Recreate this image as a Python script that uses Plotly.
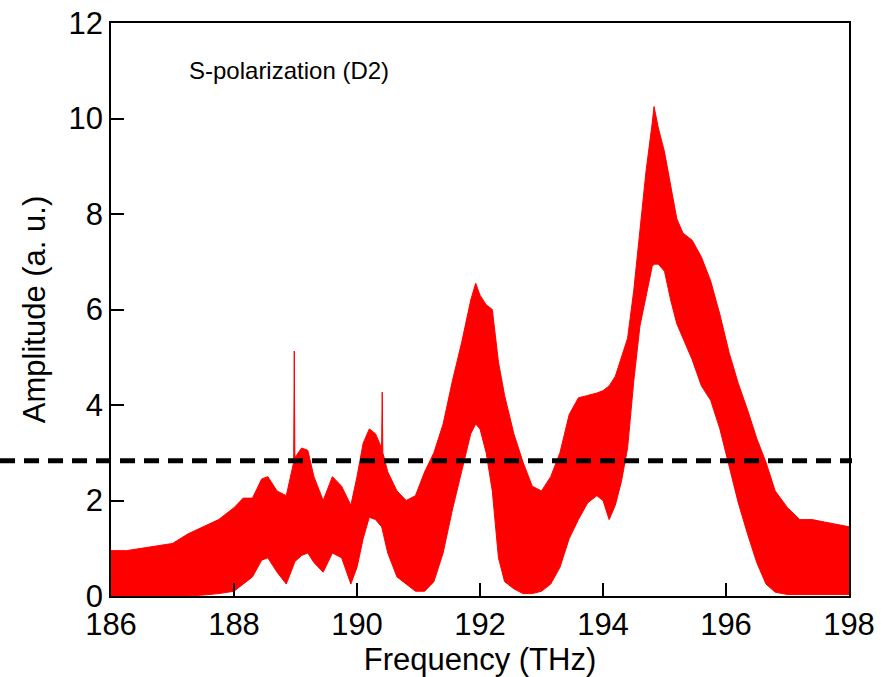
import plotly.graph_objects as go

freq = [186.0, 186.25, 186.5, 186.75, 187.0, 187.25, 187.5, 187.75, 188.0, 188.15,
        188.3, 188.45, 188.55, 188.7, 188.85, 188.97, 188.98, 188.99, 189.1, 189.2,
        189.3, 189.45, 189.6, 189.75, 189.9, 190.0, 190.1, 190.2, 190.3, 190.4,
        190.41, 190.42, 190.5, 190.65, 190.8, 190.95, 191.1, 191.25, 191.4, 191.55,
        191.7, 191.85, 191.93, 192.0, 192.1, 192.2, 192.3, 192.4, 192.55, 192.7,
        192.85, 193.0, 193.15, 193.3, 193.45, 193.6, 193.75, 193.9, 194.0, 194.1,
        194.2, 194.3, 194.4, 194.5, 194.6, 194.7, 194.8, 194.83, 194.9, 195.0,
        195.1, 195.2, 195.3, 195.45, 195.6, 195.75, 195.9, 196.05, 196.2, 196.35,
        196.5, 196.65, 196.8, 197.0, 197.2, 197.4, 197.6, 197.8, 198.0]
upper = [0.95, 0.95, 1.0, 1.05, 1.1, 1.3, 1.45, 1.6, 1.85, 2.05,
         2.05, 2.45, 2.5, 2.2, 2.1, 2.8, 5.13, 2.9, 3.1, 3.05,
         2.5, 2.0, 2.5, 2.3, 1.9, 2.5, 3.2, 3.5, 3.4, 3.1,
         4.27, 3.0, 2.6, 2.2, 2.0, 2.1, 2.6, 3.0, 3.6, 4.5,
         5.3, 6.2, 6.55, 6.3, 6.1, 6.0, 4.9, 4.2, 3.4, 2.8,
         2.3, 2.2, 2.5, 3.0, 3.8, 4.15, 4.2, 4.25, 4.3, 4.4,
         4.6, 5.0, 5.4, 6.4, 7.6, 8.9, 9.9, 10.25, 9.8, 9.3,
         8.6, 7.9, 7.6, 7.45, 7.1, 6.6, 5.9, 5.1, 4.45, 3.9,
         3.3, 2.8, 2.2, 1.85, 1.6, 1.6, 1.55, 1.5, 1.45]
lower = [0.0, 0.0, 0.0, 0.0, 0.0, 0.0, 0.02, 0.05, 0.1, 0.25,
         0.4, 0.75, 0.8, 0.5, 0.25, 0.65, 0.7, 0.72, 0.85, 0.9,
         0.7, 0.5, 0.9, 0.8, 0.25, 0.6, 1.2, 1.65, 1.6, 1.45,
         1.4, 1.35, 0.9, 0.4, 0.25, 0.1, 0.1, 0.3, 0.9, 1.8,
         2.6, 3.4, 3.6, 3.5, 3.0, 2.2, 0.8, 0.3, 0.15, 0.05,
         0.05, 0.1, 0.25, 0.6, 1.2, 1.6, 1.95, 2.1, 2.0, 1.6,
         1.9, 2.4, 3.1, 4.5, 5.65, 6.3, 6.9, 6.95, 6.95, 6.8,
         6.2, 5.7, 5.4, 4.95, 4.4, 4.1, 3.5, 2.75, 1.95, 1.3,
         0.7, 0.25, 0.08, 0.03, 0.03, 0.03, 0.03, 0.03, 0.03]

threshold = 2.83
x_ticks = [186, 188, 190, 192, 194, 196, 198]
y_ticks = [0, 2, 4, 6, 8, 10, 12]

FONT = "Liberation Sans, Arial, sans-serif"

fig = go.Figure()
fig.add_trace(go.Scatter(x=freq, y=lower, mode="lines",
                         line=dict(color="#ff0000", width=1),
                         showlegend=False, hoverinfo="skip"))
fig.add_trace(go.Scatter(x=freq, y=upper, mode="lines",
                         line=dict(color="#ff0000", width=1),
                         fill="tonexty", fillcolor="#ff0000",
                         showlegend=False))

L, R, T, B = 111, 33, 23, 81
W, H = 882, 677
pw = W - L - R
ph = H - T - B
fig.add_shape(type="line", xref="paper", yref="y",
              x0=-L / pw, x1=(852 - L) / pw, y0=threshold, y1=threshold,
              line=dict(color="black", width=5, dash="15px,9px"), layer="above")

fig.add_annotation(x=(187 - L) / pw, y=1 - (70 - T) / ph, xref="paper", yref="paper",
                   text="S-polarization (D2)", showarrow=False,
                   xanchor="left", yanchor="middle",
                   font=dict(family=FONT, size=24, color="black"))

axis_common = dict(showline=True, linecolor="black", linewidth=1.5, mirror=True,
                   ticks="inside", ticklen=13, tickwidth=1.5, tickcolor="black",
                   showgrid=False, zeroline=False, automargin=False,
                   tickfont=dict(family=FONT, size=31, color="black"))

fig.update_xaxes(range=[186, 198], tickvals=x_ticks,
                 title=dict(text="Frequency (THz)", standoff=2,
                            font=dict(family=FONT, size=31, color="black")),
                 **axis_common)
fig.update_yaxes(range=[0, 12], tickvals=y_ticks,
                 title=dict(text="Amplitude (a. u.)", standoff=14,
                            font=dict(family=FONT, size=31, color="black")),
                 **axis_common)

fig.update_layout(width=W, height=H, margin=dict(l=L, r=R, t=T, b=B, autoexpand=False),
                  plot_bgcolor="white", paper_bgcolor="white")

fig.write_html("out.html", config={"displayModeBar": False},
               post_script="document.body.style.margin='0px';document.body.style.overflow='hidden';")
